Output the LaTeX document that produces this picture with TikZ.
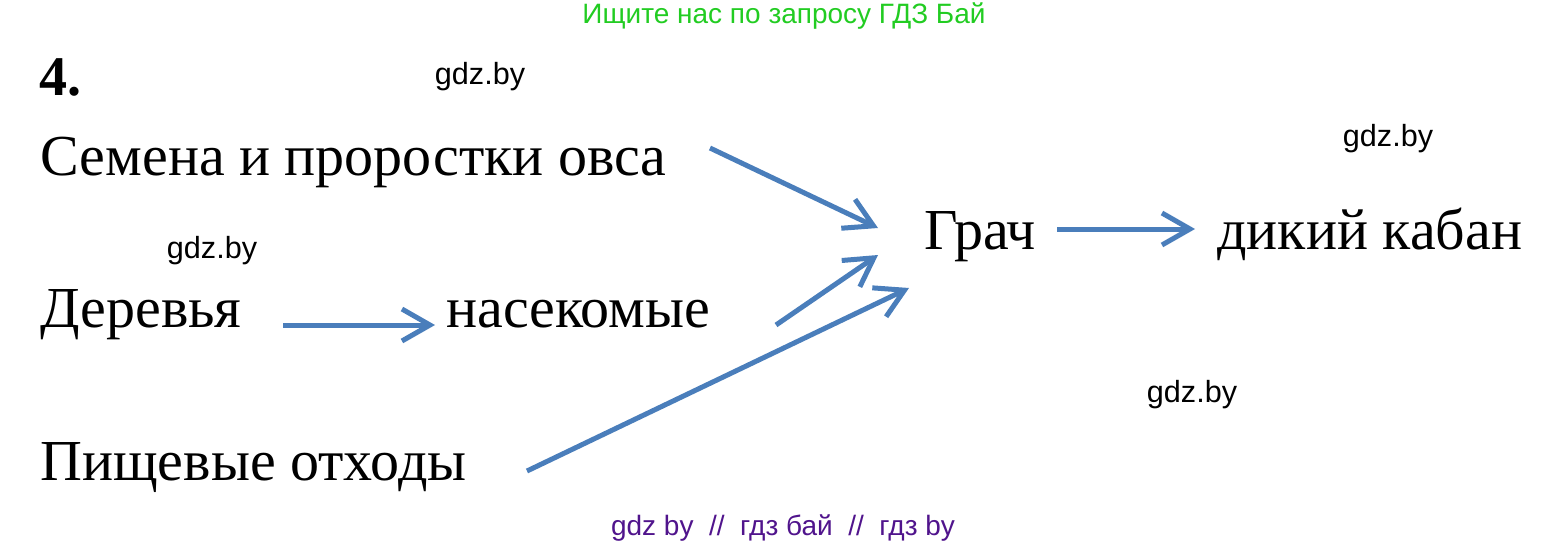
\documentclass[tikz,border=0pt]{standalone}
\usepackage{fontspec}
\setmainfont{Liberation Serif}
\newfontfamily\wmfont{Liberation Sans}
\usetikzlibrary{arrows.meta}
\definecolor{arr}{RGB}{74,126,187}
\definecolor{wgreen}{RGB}{34,204,34}
\definecolor{wpurple}{RGB}{80,20,140}
\begin{document}
\begin{tikzpicture}[x=0.5pt,y=-0.5pt,
  lbl/.style={anchor=base west,inner sep=0pt,font=\fontsize{29}{35}\selectfont},
  wm/.style={inner sep=0pt,font=\wmfont\fontsize{15.3}{18}\selectfont},
  conn/.style={draw=arr,line width=2.5pt,-{Straight Barb[length=14pt,width=16pt]}}]
\useasboundingbox (0,0) rectangle (1568,546);
% watermarks
\node[wm,text=wgreen,font=\wmfont\fontsize{14}{17}\selectfont] (top) at (784,16) {Ищите нас по запросу ГДЗ Бай};
\node[wm,text=wpurple,font=\wmfont\fontsize{14}{17}\selectfont] (bot) at (783,528) {gdz by \ // \ гдз бай \ // \ гдз by};
\node[wm] (w1) at (480,77) {gdz.by};
\node[wm] (w2) at (1388,139) {gdz.by};
\node[wm] (w3) at (212,251) {gdz.by};
\node[wm] (w4) at (1192,395) {gdz.by};
% number
\node[anchor=base west,inner sep=0pt,font=\bfseries\fontsize{28}{33}\selectfont] (num) at (39,95) {4.};
% labels
\node[lbl] (oats) at (40,175) {Семена и проростки овса};
\node[lbl] (rook) at (924,249) {Грач};
\node[lbl] (boar) at (1217,249) {дикий кабан};
\node[lbl] (trees) at (40,327) {Деревья};
\node[lbl] (insects) at (446,327) {насекомые};
\node[lbl] (waste) at (40,480) {Пищевые отходы};
% connector endpoints
\coordinate (a1s) at (710,148);
\coordinate (a1e) at (878,228);
\coordinate (a2s) at (776,325);
\coordinate (a2e) at (878,255);
\coordinate (a3s) at (527,471);
\coordinate (a3e) at (909,288);
\coordinate (a4s) at (283,325);
\coordinate (a4e) at (435,325);
\coordinate (a5s) at (1057,229);
\coordinate (a5e) at (1195,229);
\draw[conn] (a1s) -- (a1e);
\draw[conn] (a2s) -- (a2e);
\draw[conn] (a3s) -- (a3e);
\draw[conn] (a4s) -- (a4e);
\draw[conn] (a5s) -- (a5e);
\end{tikzpicture}
\end{document}
